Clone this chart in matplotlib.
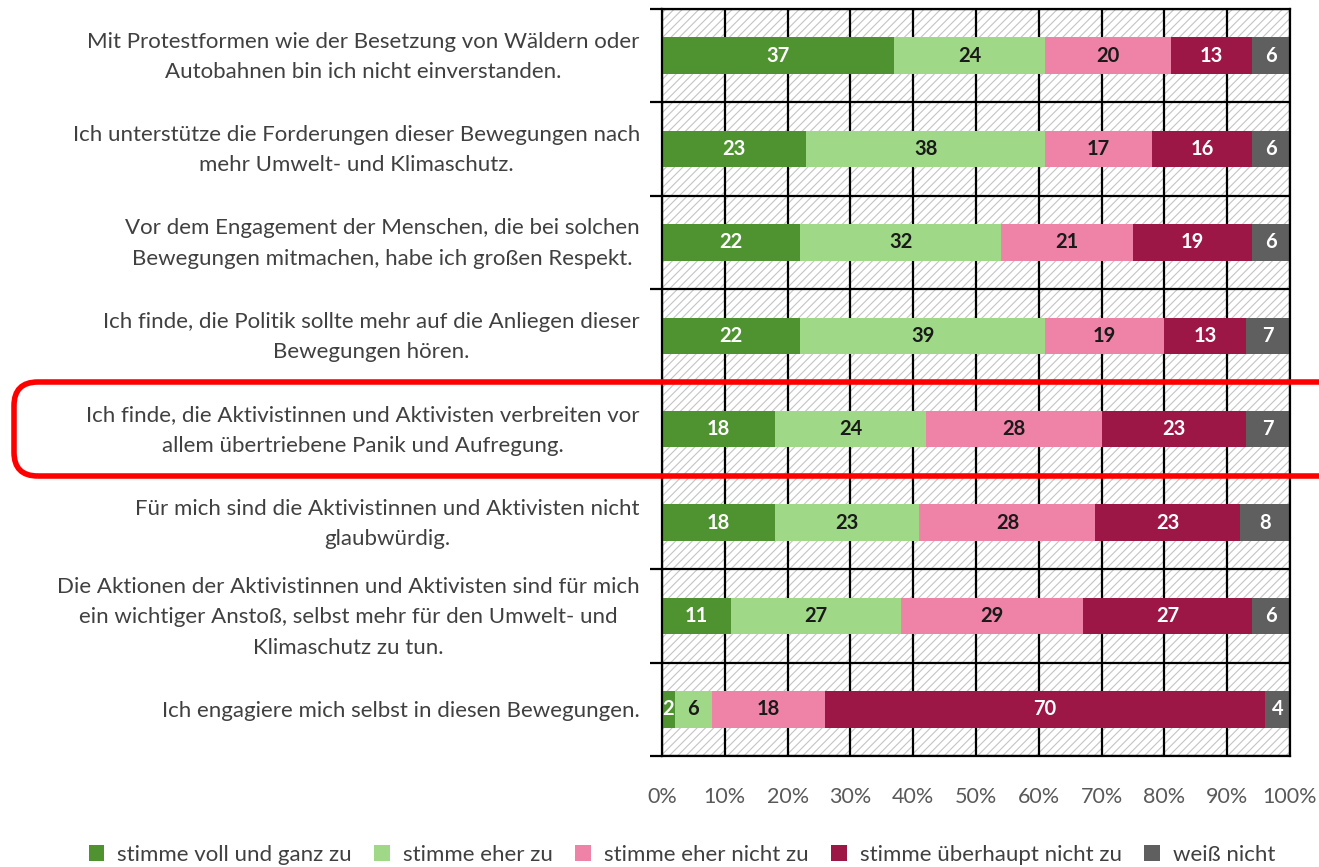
import matplotlib
matplotlib.use("Agg")
import matplotlib.pyplot as plt
import matplotlib.transforms as mtransforms
from matplotlib.patches import FancyBboxPatch, Rectangle
import numpy as np

plt.rcParams['font.family'] = ['Lato', 'DejaVu Sans']
plt.rcParams['hatch.color'] = '#c4c4c4'
plt.rcParams['hatch.linewidth'] = 0.8

categories = [
    "Mit Protestformen wie der Besetzung von Wäldern oder\nAutobahnen bin ich nicht einverstanden.",
    "Ich unterstütze die Forderungen dieser Bewegungen nach\nmehr Umwelt- und Klimaschutz.",
    "Vor dem Engagement der Menschen, die bei solchen\nBewegungen mitmachen, habe ich großen Respekt.",
    "Ich finde, die Politik sollte mehr auf die Anliegen dieser\nBewegungen hören.",
    "Ich finde, die Aktivistinnen und Aktivisten verbreiten vor\nallem übertriebene Panik und Aufregung.",
    "Für mich sind die Aktivistinnen und Aktivisten nicht\nglaubwürdig.",
    "Die Aktionen der Aktivistinnen und Aktivisten sind für mich\nein wichtiger Anstoß, selbst mehr für den Umwelt- und\nKlimaschutz zu tun.",
    "Ich engagiere mich selbst in diesen Bewegungen.",
]
series_names = ["stimme voll und ganz zu", "stimme eher zu", "stimme eher nicht zu",
                "stimme überhaupt nicht zu", "weiß nicht"]
voll = [37, 23, 22, 22, 18, 18, 11, 2]
eher = [24, 38, 32, 39, 24, 23, 27, 6]
eher_nicht = [20, 17, 21, 19, 28, 28, 29, 18]
ueberhaupt_nicht = [13, 16, 19, 13, 23, 23, 27, 70]
weiss_nicht = [6, 6, 6, 7, 7, 8, 6, 4]
xtick_labels = ["0%", "10%", "20%", "30%", "40%", "50%", "60%", "70%", "80%", "90%", "100%"]

colors = ["#4f9331", "#9fd886", "#ee82a7", "#9d1746", "#5f5f5f"]
text_colors = ["white", "#1a1a1a", "#1a1a1a", "white", "white"]

fig = plt.figure(figsize=(13.19, 8.67), dpi=100)
ax = fig.add_axes([662/1319, 1-756/867, 628/1319, 747/867])

n = len(categories)
ax.set_xlim(0, 100)
ax.set_ylim(n - 0.5, -0.5)

# hatched background
ax.add_patch(Rectangle((0, -0.5), 100, n, facecolor='white', edgecolor='#c4c4c4',
                       hatch='////', lw=0, zorder=0))
# grid
for xv in range(0, 101, 10):
    ax.axvline(xv, color='black', lw=1.6, zorder=1)
for yv in np.arange(-0.5, n, 1.0):
    ax.axhline(yv, color='black', lw=1.6, zorder=1)

data = [voll, eher, eher_nicht, ueberhaupt_nicht, weiss_nicht]
y = np.arange(n)
left = np.zeros(n)
for vals, c, tc, name in zip(data, colors, text_colors, series_names):
    vals = np.array(vals, dtype=float)
    ax.barh(y, vals, left=left, height=0.39, color=c, label=name, zorder=2)
    for yi, (l, v) in enumerate(zip(left, vals)):
        ax.text(l + v / 2, yi, f"{int(v)}", ha='center', va='center', color=tc,
                fontsize=14.5, fontweight='bold', zorder=3)
    left += vals

ax.set_yticks(np.arange(-0.5, n, 1.0))
ax.set_yticklabels([])
ax.tick_params(axis='y', length=9, width=1.6, color='black')
ax.set_yticks(y, minor=True)
ax.set_yticklabels(categories, minor=True, fontsize=16, color='#404040',
                   multialignment='center', linespacing=1.65)
ax.tick_params(axis='y', which='minor', length=0, pad=16)
offset = mtransforms.ScaledTranslation(0, 0.06, fig.dpi_scale_trans)
for lab in ax.get_yticklabels(minor=True):
    if "\n" in lab.get_text():
        lab.set_transform(lab.get_transform() + offset)

ax.set_xticks(range(0, 101, 10))
ax.set_xticklabels(xtick_labels, fontsize=15.5, color='#595959')
ax.tick_params(axis='x', length=0, pad=22)
for s in ax.spines.values():
    s.set_color('black')
    s.set_linewidth(1.6)

handles, labels = ax.get_legend_handles_labels()
fig.legend(handles, labels, loc='center', bbox_to_anchor=(0.517, 1 - 855/867), ncol=5,
           frameon=False, fontsize=16, handlelength=0.7, handleheight=0.7,
           columnspacing=1.0, handletextpad=0.6, labelcolor='#404040')

# red highlight box
box = FancyBboxPatch((14/1319, 1 - 476/867), 1340/1319, 94/867,
                     boxstyle="round,pad=0,rounding_size=0.018",
                     transform=fig.transFigure, fill=False, edgecolor='#ff0000',
                     lw=4, zorder=10, clip_on=False, mutation_aspect=1319/867)
fig.add_artist(box)

fig.savefig("out.png", dpi=100)
